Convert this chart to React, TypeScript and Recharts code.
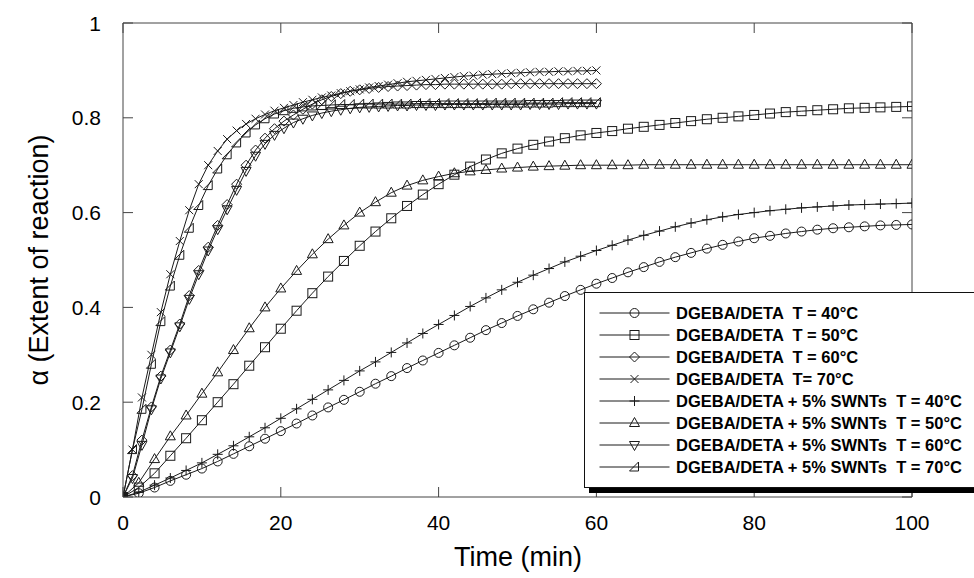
import { LineChart, Line, XAxis, YAxis, ReferenceArea, Legend } from "recharts"

// sampling times (min)
const TIME_LONG = [
  0, 2, 4, 6, 8, 10, 12, 14, 16, 18, 20, 22, 24, 26, 28, 30, 32, 34, 36, 38, 40, 42, 44, 46, 48, 50,
  52, 54, 56, 58, 60, 62, 64, 66, 68, 70, 72, 74, 76, 78, 80, 82, 84, 86, 88, 90, 92, 94, 96, 98, 100,
]
const TIME_SHORT = [
  0, 1.2, 2.4, 3.6, 4.8, 6, 7.2, 8.4, 9.6, 10.8, 12, 13.2, 14.4, 15.6, 16.8, 18, 19.2, 20.4, 21.6, 22.8,
  24, 25.2, 26.4, 27.6, 28.8, 30, 31.2, 32.4, 33.6, 34.8, 36, 37.2, 38.4, 39.6, 40.8, 42, 43.2, 44.4,
  45.6, 46.8, 48, 49.2, 50.4, 51.6, 52.8, 54, 55.2, 56.4, 57.6, 58.8, 60,
]

// extent of reaction, neat resin
const NEAT_40 = [
  0, 0.008, 0.02, 0.034, 0.047, 0.06, 0.075, 0.091, 0.107, 0.123, 0.139, 0.155, 0.172, 0.189, 0.205,
  0.222, 0.239, 0.255, 0.272, 0.288, 0.304, 0.32, 0.336, 0.352, 0.367, 0.382, 0.396, 0.41, 0.424, 0.437,
  0.45, 0.462, 0.474, 0.485, 0.496, 0.506, 0.515, 0.524, 0.532, 0.539, 0.546, 0.551, 0.556, 0.56, 0.564,
  0.567, 0.569, 0.571, 0.573, 0.574, 0.575,
]
const NEAT_50 = [
  0, 0.02, 0.05, 0.087, 0.124, 0.162, 0.2, 0.238, 0.277, 0.316, 0.355, 0.393, 0.43, 0.465, 0.498, 0.53,
  0.56, 0.588, 0.614, 0.638, 0.66, 0.68, 0.697, 0.712, 0.725, 0.735, 0.743, 0.75, 0.757, 0.763, 0.768,
  0.772, 0.777, 0.781, 0.785, 0.789, 0.793, 0.797, 0.8, 0.803, 0.806, 0.809, 0.812, 0.814, 0.816, 0.818,
  0.82, 0.821, 0.822, 0.823, 0.824,
]
const NEAT_60 = [
  0, 0.045, 0.12, 0.19, 0.255, 0.31, 0.365, 0.425, 0.478, 0.527, 0.573, 0.617, 0.66, 0.7, 0.732, 0.757,
  0.777, 0.793, 0.806, 0.818, 0.829, 0.838, 0.845, 0.851, 0.856, 0.859, 0.862, 0.864, 0.866, 0.867, 0.868,
  0.869, 0.87, 0.87, 0.871, 0.871, 0.871, 0.871, 0.871, 0.871, 0.871, 0.872, 0.872, 0.872, 0.872, 0.872,
  0.872, 0.872, 0.872, 0.872, 0.872,
]
const NEAT_70 = [
  0, 0.1, 0.21, 0.3, 0.39, 0.47, 0.54, 0.605, 0.66, 0.7, 0.73, 0.755, 0.773, 0.787, 0.798, 0.807, 0.815,
  0.821, 0.827, 0.833, 0.838, 0.843, 0.847, 0.852, 0.856, 0.86, 0.864, 0.867, 0.87, 0.873, 0.876, 0.878,
  0.88, 0.882, 0.884, 0.886, 0.888, 0.889, 0.891, 0.892, 0.893, 0.894, 0.895, 0.896, 0.897, 0.897, 0.898,
  0.898, 0.899, 0.899, 0.9,
]

// extent of reaction, + 5% SWNTs
const SWNT_40 = [
  0, 0.01, 0.025, 0.04, 0.056, 0.072, 0.09, 0.108, 0.127, 0.146, 0.166, 0.186, 0.206, 0.226, 0.246, 0.266,
  0.285, 0.305, 0.325, 0.345, 0.364, 0.383, 0.402, 0.42, 0.437, 0.453, 0.468, 0.482, 0.496, 0.508, 0.52,
  0.531, 0.542, 0.552, 0.561, 0.57, 0.578, 0.585, 0.591, 0.596, 0.6, 0.604, 0.607, 0.61, 0.612, 0.614,
  0.616, 0.617, 0.618, 0.619, 0.62,
]
const SWNT_50 = [
  0, 0.03, 0.08, 0.128, 0.172, 0.218, 0.263, 0.31, 0.356, 0.4, 0.44, 0.477, 0.512, 0.544, 0.573, 0.6,
  0.622, 0.642, 0.657, 0.668, 0.676, 0.683, 0.687, 0.69, 0.693, 0.695, 0.697, 0.698, 0.699, 0.7, 0.7, 0.7,
  0.7, 0.701, 0.701, 0.701, 0.701, 0.701, 0.701, 0.701, 0.701, 0.701, 0.701, 0.701, 0.701, 0.701, 0.701,
  0.701, 0.701, 0.701, 0.701,
]
const SWNT_60 = [
  0, 0.04, 0.11, 0.185, 0.25, 0.305, 0.36, 0.418, 0.47, 0.52, 0.565, 0.607, 0.648, 0.688, 0.72, 0.745,
  0.764, 0.778, 0.79, 0.798, 0.805, 0.81, 0.814, 0.817, 0.82, 0.822, 0.823, 0.824, 0.825, 0.826, 0.826,
  0.827, 0.827, 0.827, 0.828, 0.828, 0.828, 0.828, 0.828, 0.828, 0.828, 0.828, 0.828, 0.829, 0.829, 0.829,
  0.829, 0.83, 0.83, 0.83, 0.83,
]
const SWNT_70 = [
  0, 0.1, 0.185, 0.28, 0.37, 0.445, 0.51, 0.567, 0.615, 0.657, 0.692, 0.722, 0.747, 0.768, 0.785, 0.798,
  0.808, 0.815, 0.82, 0.823, 0.825, 0.826, 0.827, 0.828, 0.828, 0.829, 0.829, 0.829, 0.829, 0.829, 0.829,
  0.83, 0.83, 0.83, 0.83, 0.83, 0.83, 0.83, 0.83, 0.831, 0.831, 0.831, 0.831, 0.831, 0.831, 0.831, 0.832,
  0.832, 0.832, 0.832, 0.832,
]

const X_TICKS = [0, 20, 40, 60, 80, 100]
const Y_TICKS = [0, 0.2, 0.4, 0.6, 0.8, 1]
const Y_TICK_LABELS = ["0", "0.2", "0.4", "0.6", "0.8", "1"]

type Shape = "circle" | "square" | "diamond" | "cross" | "plus" | "up" | "down" | "left"

const SERIES: { name: string; time: number[]; values: number[]; shape: Shape }[] = [
  { name: "DGEBA/DETA  T = 40°C", time: TIME_LONG, values: NEAT_40, shape: "circle" },
  { name: "DGEBA/DETA  T = 50°C", time: TIME_LONG, values: NEAT_50, shape: "square" },
  { name: "DGEBA/DETA  T = 60°C", time: TIME_SHORT, values: NEAT_60, shape: "diamond" },
  { name: "DGEBA/DETA  T= 70°C", time: TIME_SHORT, values: NEAT_70, shape: "cross" },
  { name: "DGEBA/DETA + 5% SWNTs  T = 40°C", time: TIME_LONG, values: SWNT_40, shape: "plus" },
  { name: "DGEBA/DETA + 5% SWNTs  T = 50°C", time: TIME_LONG, values: SWNT_50, shape: "up" },
  { name: "DGEBA/DETA + 5% SWNTs  T = 60°C", time: TIME_SHORT, values: SWNT_60, shape: "down" },
  { name: "DGEBA/DETA + 5% SWNTs  T = 70°C", time: TIME_SHORT, values: SWNT_70, shape: "left" },
]

const FONT = '"Liberation Sans", Arial, Helvetica, sans-serif'
const INK = "#1a1a1a"
const W = 974
const H = 578
const PLOT_W = 789
const PLOT_H = 474

function Marker({ shape, cx, cy }: { shape: Shape; cx: number; cy: number }) {
  const p = { fill: "none", stroke: INK, strokeWidth: 1 }
  switch (shape) {
    case "circle":
      return <circle cx={cx} cy={cy} r={4.5} {...p} />
    case "square":
      return <rect x={cx - 4.5} y={cy - 4.5} width={9} height={9} {...p} />
    case "diamond":
      return <polygon points={`${cx},${cy - 5} ${cx + 5},${cy} ${cx},${cy + 5} ${cx - 5},${cy}`} {...p} />
    case "cross":
      return (
        <path d={`M${cx - 4},${cy - 4}L${cx + 4},${cy + 4}M${cx - 4},${cy + 4}L${cx + 4},${cy - 4}`} {...p} />
      )
    case "plus":
      return <path d={`M${cx - 5},${cy}L${cx + 5},${cy}M${cx},${cy - 5}L${cx},${cy + 5}`} {...p} />
    case "up":
      return <polygon points={`${cx},${cy - 5.5} ${cx + 5},${cy + 3.5} ${cx - 5},${cy + 3.5}`} {...p} />
    case "down":
      return <polygon points={`${cx},${cy + 5.5} ${cx + 5},${cy - 3.5} ${cx - 5},${cy - 3.5}`} {...p} />
    case "left":
      return <polygon points={`${cx - 5},${cy + 4} ${cx + 4},${cy - 5} ${cx + 4},${cy + 4}`} {...p} />
  }
  return null
}

const dotFor = (shape: Shape) => (props: any) => {
  if (props.cx == null || props.cy == null) return <g key={`${shape}-${props.index}`} />
  return (
    <g key={`${shape}-${props.index}`}>
      <Marker shape={shape} cx={props.cx} cy={props.cy} />
    </g>
  )
}

function XTick(props: any) {
  const { x, y, payload } = props
  return (
    <g>
      <line x1={x} x2={x} y1={y} y2={y - 10} stroke="#444" />
      <line x1={x} x2={x} y1={y - PLOT_H} y2={y - PLOT_H + 10} stroke="#444" />
      <text x={x} y={y + 25} textAnchor="middle" dominantBaseline="central" fontSize={21} fill="#000" fontFamily={FONT}>
        {payload.value}
      </text>
    </g>
  )
}

function YTick(props: any) {
  const { x, y, payload } = props
  const label = Y_TICK_LABELS[Y_TICKS.indexOf(payload.value)] ?? String(payload.value)
  return (
    <g>
      <line x1={x} x2={x + 10} y1={y} y2={y} stroke="#444" />
      <line x1={x + PLOT_W - 10} x2={x + PLOT_W} y1={y} y2={y} stroke="#444" />
      <text x={x - 22} y={y} textAnchor="end" dominantBaseline="central" fontSize={21} fill="#000" fontFamily={FONT}>
        {label}
      </text>
    </g>
  )
}

function LegendBox() {
  return (
    <div
      style={{
        border: "1.5px solid #111",
        boxShadow: "5px 5px 0 #000",
        background: "#fff",
        padding: "9px 0",
        fontFamily: FONT,
        fontWeight: 700,
        fontSize: 16.5,
        color: "#000",
      }}
    >
      {SERIES.map((s) => (
        <div key={s.name} style={{ display: "flex", alignItems: "center", height: 22 }}>
          <svg width={91} height={22} style={{ flex: "none" }}>
            <line x1={14.5} x2={84.5} y1={11} y2={11} stroke={INK} strokeWidth={1} />
            <Marker shape={s.shape} cx={49.5} cy={11} />
          </svg>
          <span style={{ whiteSpace: "pre" }}>{s.name}</span>
        </div>
      ))}
    </div>
  )
}

export default function App() {
  return (
    <div style={{ position: "fixed", left: 0, top: 0, width: W, height: H, overflow: "hidden", background: "#fff" }}>
      <LineChart width={W} height={H} margin={{ top: 23, right: 62, bottom: 41, left: 63 }}>
        <XAxis
          dataKey="t"
          type="number"
          domain={[0, 100]}
          ticks={X_TICKS}
          tickSize={0}
          tickMargin={0}
          axisLine={false}
          tick={(p: any) => <XTick {...p} />}
          height={40}
          allowDataOverflow
        />
        <YAxis
          type="number"
          domain={[0, 1]}
          ticks={Y_TICKS}
          tickSize={0}
          tickMargin={0}
          axisLine={false}
          tick={(p: any) => <YTick {...p} />}
          width={60}
          allowDataOverflow
        />
        <ReferenceArea x1={0} x2={100} y1={0} y2={1} fill="none" stroke="#444" strokeWidth={1} ifOverflow="visible" />
        {SERIES.map((s) => (
          <Line
            key={s.name}
            name={s.name}
            data={s.time.map((t, i) => ({ t, a: s.values[i] }))}
            dataKey="a"
            type="linear"
            stroke={INK}
            strokeWidth={1}
            dot={dotFor(s.shape)}
            activeDot={false}
            isAnimationActive={false}
          />
        ))}
        <Legend
          layout="vertical"
          align="center"
          verticalAlign="middle"
          wrapperStyle={{ left: 584, top: 292, width: 420 }}
          content={() => <LegendBox />}
        />
      </LineChart>
      <svg width={W} height={H} style={{ position: "absolute", left: 0, top: 0, pointerEvents: "none" }}>
        <text x={518} y={566} textAnchor="middle" fontSize={27} fontFamily={FONT} fill="#000">
          Time (min)
        </text>
        <text
          transform="translate(48,260) rotate(-90)"
          textAnchor="middle"
          fontSize={27}
          fontFamily={FONT}
          fill="#000"
        >
          α (Extent of reaction)
        </text>
      </svg>
    </div>
  )
}
